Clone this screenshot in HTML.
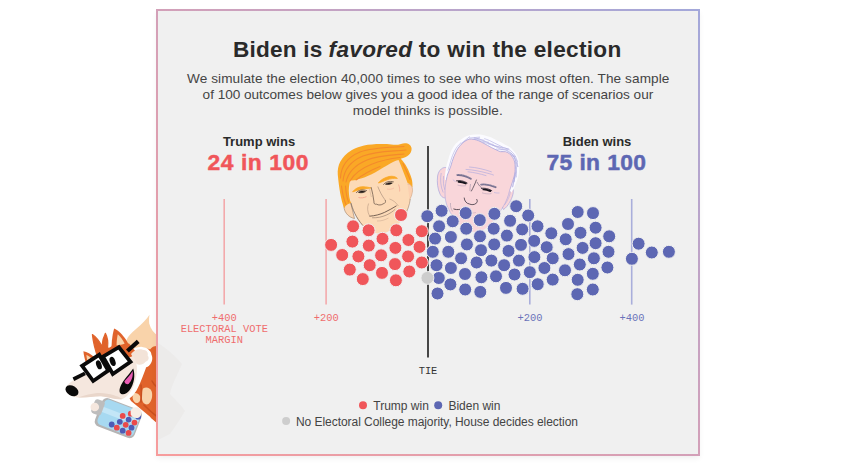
<!DOCTYPE html>
<html><head><meta charset="utf-8"><style>
html,body{margin:0;padding:0;background:#fff;}
body{width:843px;height:475px;position:relative;overflow:hidden;font-family:"Liberation Sans",sans-serif;}
#fox{position:absolute;left:0;top:0;width:843px;height:475px;}
#box{position:absolute;left:156px;top:9px;width:544px;height:447px;box-sizing:border-box;
 background:linear-gradient(to top right,#f79c9c 0%,#d3a0b8 50%,#a3a8da 100%);
 box-shadow:0 3px 6px -1px rgba(0,0,0,0.07);}
#box:before{content:"";position:absolute;left:2px;top:2px;right:2px;bottom:2px;background:#f0f0f0;}
#chart{position:absolute;left:0;top:0;width:843px;height:475px;}
text{font-family:"Liberation Sans",sans-serif;}
.mono text{font-family:"Liberation Mono",monospace;font-size:10.4px;}
</style></head><body>
<svg id="fox" viewBox="0 0 843 475"><g id="fivey">
<!-- tail -->
<path d="M149.5,314.8 C147,319 142,324 136,329 C131,333 128,336.5 126.5,340 L126,358 L158,358 L158,336 C154,333 150.5,329 149.2,323.5 C148.8,320 149.2,317 149.5,314.8 Z" fill="#f9d3aa"/>
<path d="M143,352 C145,349 148,348 150,349.5 C152,346.5 155,345.5 158,346 L158,424 L151,418 L140,396 L140,362 Z" fill="#e0632b"/>
<!-- body -->
<path d="M126,392 C134,384 146,380 158,378 L158,423 C150,417 141,409 131,401 Z" fill="#e0632b"/>
<path d="M143,388.5 C146,386.5 150,387.5 151.5,391 C153,395 152,401 148.5,404 C145.5,405.5 142.5,403 142,399 C141.6,395 142,391 143,388.5 Z" fill="#f9d3aa"/>
<path d="M133,393.5 C135.5,392.5 138.5,393.5 140,396 C141,399 140,402 137.5,403 C135,403.5 133,401 132.6,398 Z" fill="#f9d3aa"/>
<g fill="none" stroke="#c9501f" stroke-width="1.6" stroke-linecap="round">
<path d="M141,385 C141.5,390 141.5,396 141,402"/>
<path d="M144,405 C148,409 152,413 156.5,416"/>
<path d="M152,381 C153.5,384 155.5,386 157,387"/>
</g>
<!-- head white outline (sticker effect) -->
<path d="M131,354 C137,346 148,347 150,355 C152,360 149,365 145,366 C142,374 139,383 135,390 C131,397 124,401 118,400 L100,397 L120,372 Z" fill="#ffffff" stroke="#ffffff" stroke-width="3.2" stroke-linejoin="round"/>
<!-- ear right (behind head) -->
<path d="M114.1,328.6 C118,330 123,335 126.8,341 C128,343 129,345 129.6,347 L111.5,353 C111.2,345 112,336 114.1,328.6 Z" fill="#e0632b"/>
<path d="M117.8,334.2 C120.5,336.5 123,340 124.6,343.6 L116.6,348.5 C116.4,343.5 116.8,338.5 117.8,334.2 Z" fill="#f9d3aa"/>
<!-- hair tufts -->
<path d="M92.4,334.6 C96,337 99.5,341.5 102,346.4 C102.2,342 103.2,337.5 105.4,333.4 C107.6,337.5 108.2,342.5 107.6,347.5 C109.4,349 110.8,351 111.6,353.5 L98,358 C95.2,350 93.2,342 92.4,334.6 Z" fill="#e0632b" stroke="#e0632b" stroke-width="1.2" stroke-linejoin="round"/>
<!-- left ear -->
<path d="M83.4,351.2 C87,351.8 91,354 94,357 L86,363 C84.6,359 83.8,355 83.4,351.2 Z" fill="#e0632b"/>
<path d="M86.4,355 C88,355.6 89.8,356.8 91,358 L87.4,360.6 C86.8,358.6 86.5,356.8 86.4,355 Z" fill="#f9d3aa"/>
<!-- head orange top -->
<path d="M86,362 L112,346 L129,343.5 L136,352 L122,372 L96,380 Z" fill="#e0632b"/>
<!-- cheek fluff -->
<path d="M131,354 C134,350 139,348.4 142.6,349.8 C146.4,349.8 148.8,352.6 147.6,355.6 C149.6,357.6 148.6,361 145.6,361.8 C143.6,364.6 139.6,365.6 136.6,364 Z" fill="#f3e3d8"/>
<!-- face / snout cream -->
<path d="M65.5,388.5 C68,382.5 78,376.5 90,372.5 L133,356 C137.5,361 138,371 135.5,380 C133.5,388 129,396 122.5,399 C117,400.5 109,397 101,396.2 C93,396 85,398 78.5,397.5 C71,397 65.5,393.5 65.5,388.5 Z" fill="#f5e7de"/>
<path d="M78,397.4 C86,398 94,396 101,396.2 C109,397 117,400.5 122.5,399 C118,396 110,393.5 100,393 C92,393 84,395.5 78,397.4 Z" fill="#e9d6ca"/>
<!-- mouth -->
<path d="M133.2,368.6 C135.4,375 134.4,384 129.4,390.6 C126.4,394.4 121.6,395.6 119.8,392.4 C118.8,389 121.2,384 124.2,380 C127.2,376 130.6,372.4 133.2,368.6 Z" fill="#0a0a0a"/>
<path d="M132.6,371 C133.4,375.5 132,380.5 128.6,384 C126.6,384.6 124.6,383.4 124.4,381.2 C127.4,378 130.6,374.8 132.6,371 Z" fill="#ea5bb4"/>
<!-- nose -->
<ellipse cx="72" cy="390.8" rx="7" ry="4.9" transform="rotate(30 72 390.8)" fill="#0a0a0a"/>
<!-- glasses -->
<g fill="#ffffff" stroke="#0a0a0a" stroke-width="3.8" stroke-linejoin="miter">
<path d="M82.1,365.8 L99.2,354.8 L108.2,370.6 L93.2,381 Z"/>
<path d="M103,356.6 L118.9,347.2 L130.5,361.8 L112.8,374 Z"/>
</g>
<path d="M127.4,351 L138.2,341.4" stroke="#0a0a0a" stroke-width="4.2" fill="none"/>
<path d="M85,373.4 L73.4,379.2" stroke="#0a0a0a" stroke-width="3.8" fill="none"/>

<ellipse cx="98.9" cy="364.8" rx="2.6" ry="4.7" transform="rotate(-20 98.9 364.8)" fill="#0a0a0a"/>
<ellipse cx="112.6" cy="361.4" rx="2.7" ry="4.8" transform="rotate(-20 112.6 361.4)" fill="#0a0a0a"/>
<!-- jar -->
<g transform="rotate(21 105.8 398.3)">
<rect x="103.4" y="397.2" width="42.4" height="30.2" rx="5.5" fill="#b5b5b5"/>
<rect x="105.8" y="398.3" width="38.7" height="27" rx="4.5" fill="#a7d9f1"/>
<rect x="105.8" y="407" width="38.7" height="5.5" fill="#c3e6f7"/>
<rect x="96.5" y="402" width="10.5" height="15" rx="3" fill="#bdbdbd"/>
</g>
<circle cx="94.8" cy="407" r="4.3" fill="#f5e7de"/>
<g>
<circle cx="130.8" cy="413.7" r="2.9" fill="#ea4a4a"/>
<circle cx="138.2" cy="416.7" r="2.9" fill="#4f5bb5"/>
<circle cx="122.7" cy="415.9" r="2.9" fill="#ea4a4a"/>
<circle cx="119.8" cy="421.8" r="2.9" fill="#4f5bb5"/>
<circle cx="128.6" cy="419.6" r="2.9" fill="#4f5bb5"/>
<circle cx="134.5" cy="422.6" r="2.9" fill="#ea4a4a"/>
<circle cx="111.7" cy="424.5" r="2.9" fill="#4f5bb5"/>
<circle cx="125.7" cy="424.8" r="2.9" fill="#ea4a4a"/>
<circle cx="116.8" cy="427.7" r="2.9" fill="#ea4a4a"/>
<circle cx="131.5" cy="427.7" r="2.9" fill="#4f5bb5"/>
<circle cx="122.7" cy="430.7" r="2.9" fill="#4f5bb5"/>
<circle cx="128.6" cy="432.9" r="2.9" fill="#ea4a4a"/>
</g>
<!-- right hand -->
<path d="M130.6,411 C131.6,407.4 136.6,406.2 139.8,408.6 C142.4,410.8 142,415.4 139,417.4 C136,419 132,417.6 130.8,414.6 Z" fill="#f7ece4"/>
</g>
</svg>
<div id="box"></div>
<svg id="chart" viewBox="0 0 843 475">
<path d="M158,343 C166,348 176,356 182,364 C178,374 172,384 170,394 C176,400 182,406 185,411 C180,420 174,428 170,434 L158,440 Z" fill="rgba(90,40,20,0.022)"/>
<!-- title -->
<g font-size="22.6" font-weight="bold" fill="#2a2a2a">
<text x="233" y="57.4" textLength="89.4" lengthAdjust="spacing">Biden is</text>
<text x="328.6" y="57.4" textLength="83.4" lengthAdjust="spacing" font-style="italic">favored</text>
<text x="418.8" y="57.4" textLength="202.4" lengthAdjust="spacing">to win the election</text>
</g>
<g font-size="13.6" fill="#444">
<text x="187" y="82.7" textLength="482.4" lengthAdjust="spacing">We simulate the election 40,000 times to see who wins most often. The sample</text>
<text x="202.6" y="98.8" textLength="450.6" lengthAdjust="spacing">of 100 outcomes below gives you a good idea of the range of scenarios our</text>
<text x="352.8" y="114.6" textLength="150" lengthAdjust="spacing">model thinks is possible.</text>
</g>
<!-- headers -->
<text x="259" y="145.8" text-anchor="middle" font-size="13" font-weight="bold" fill="#2a2a2a">Trump wins</text>
<text x="207.5" y="169.9" textLength="101" lengthAdjust="spacing" font-size="22.8" font-weight="bold" fill="#f0565a" stroke="#f0565a" stroke-width="0.5">24 in 100</text>
<text x="597" y="145.8" text-anchor="middle" font-size="13" font-weight="bold" fill="#2a2a2a">Biden wins</text>
<text x="546.5" y="169.9" textLength="99.5" lengthAdjust="spacing" font-size="22.8" font-weight="bold" fill="#5d67b3" stroke="#5d67b3" stroke-width="0.5">75 in 100</text>
<!-- axis ticks -->
<g stroke-width="1.6">
<line x1="224.2" y1="199" x2="224.2" y2="304.6" stroke="#f3a9ab"/>
<line x1="326.1" y1="199" x2="326.1" y2="304.6" stroke="#f3a9ab"/>
<line x1="529.8" y1="199" x2="529.8" y2="304.6" stroke="#a9aedb"/>
<line x1="631.7" y1="199" x2="631.7" y2="304.6" stroke="#a9aedb"/>
</g>
<line x1="428" y1="146" x2="428" y2="357.5" stroke="#333" stroke-width="1.8"/>
<g class="mono" text-anchor="middle">
<text x="224.3" y="320.7" fill="#ef6c6d">+400</text>
<text x="224.3" y="332" fill="#ef6c6d">ELECTORAL VOTE</text>
<text x="224.3" y="342.9" fill="#ef6c6d">MARGIN</text>
<text x="326.3" y="320.7" fill="#ef6c6d">+200</text>
<text x="530" y="320.7" fill="#6a73ba">+200</text>
<text x="631.9" y="320.7" fill="#6a73ba">+400</text>
<text x="428" y="373.8" fill="#333">TIE</text>
</g>
<!-- faces -->
<g id="trump">
<!-- left ear -->
<path d="M350.5,202 C346,201 343.2,204 344.2,208.5 C345,213 349,217.5 354.5,218.5 Z" fill="#fbd6b2" stroke="#8a6a50" stroke-width="0.5"/>
<!-- face -->
<path d="M350.2,180.5 C360,179 372,174 384.4,166.6 C390,163 395,161 398.8,159.8 C402,166 406,176 408.4,182.6 C411.5,184 413,187.5 412.4,191 C412,195 410.5,197.5 410.3,199 C409.5,205 407.5,211 404,217 C400,223.5 393,230 384,233.5 C376,235 368,231 362.9,225.6 C358,220.5 354,213 351.5,204 C349.5,198 348.6,190 350.2,180.5 Z" fill="#fcdab7"/>
<!-- jaw outline -->
<path d="M350.9,202.8 C352.5,209 355.5,217 362.9,225.6" fill="none" stroke="#6b5646" stroke-width="0.7"/>
<path d="M410.3,199 C409.5,205 407.5,211 404,217" fill="none" stroke="#8a6a50" stroke-width="0.5"/>
<!-- right ear hint -->
<path d="M407.5,184 C411.5,183.5 413.2,188 412.3,192.5 C411.8,196 410.5,198 409.6,199.5" fill="#fbd0b0" stroke="#b98a6a" stroke-width="0.4"/>
<!-- hair -->
<path d="M344.2,208.3 C341,200 339,188 337.8,175 C337,165 341,157 351.5,150.2 C360,145.3 370,143.4 386.9,144 C392,144.4 396,145.6 401,143.9 C406,142 411.6,144 411.6,148.8 C411.6,153.6 407.5,157.4 400.8,158.8 C405,163 409,170 411.6,178.5 C412.4,181.5 412.6,184.5 412.4,187.5 C411,185 409.5,183.6 407.6,183 C405,176 402,168 398.6,160 C392,161.5 382,169 371.7,174.2 C362,178.8 355,180.2 350.2,180.6 C349,185 348.5,190 349,194 C349.4,198 350.2,201 351,203 C348,203.5 345.5,205.5 344.2,208.3 Z" fill="#faa826"/>
<g fill="none" stroke="#f48a2c" stroke-width="1.1" stroke-linecap="round">
<path d="M340.5,178 C341,166 348,157 360,152 C372,147.5 388,147.5 404,146.5"/>
<path d="M343,181 C344,170 351,161 363,156 C376,151 390,151.5 406,150"/>
<path d="M346,182 C348,173 355,165 367,160 C378,155.5 392,155 404,154"/>
<path d="M350,181 C354,174 361,168.5 371,164.5 C381,160.5 391,158.5 400,157.5"/>
<path d="M356,180 C362,175 370,170.5 380,166.5"/>
<path d="M341.5,186 C342.5,194 344,200 346,204.5"/>
<path d="M345.5,186 C346,193 347,198 348.5,202"/>
<path d="M403,163.5 C405.5,169 408,174 410,179.5"/>
</g>
<!-- eyebrows -->
<path d="M352.6,191.8 C355,188.5 359,186.6 363,186.7 C366,186.8 369,187.3 370.8,188 C367,188.6 363.5,188.8 360,189.5 C357,190.2 354.5,191.6 352.6,191.8 Z" fill="#faa826" stroke="#faa826" stroke-width="0.8" stroke-linejoin="round"/>
<path d="M378.4,183 C380.5,180 384.5,177.6 389,176.5 C392.5,175.8 395.5,176.5 397.4,178.4 C394,178.2 390.5,178.6 387,179.8 C383.5,181 380.5,182.6 378.4,183 Z" fill="#faa826" stroke="#faa826" stroke-width="0.8" stroke-linejoin="round"/>
<!-- eyes -->
<path d="M356.4,192.6 C358.5,190 362.5,189.2 366.6,190.6" fill="none" stroke="#4a3c34" stroke-width="0.7" stroke-linecap="round"/>
<path d="M358.4,192.4 C360,190.9 363.5,190.6 365.6,191.6 C363.6,192.8 360.4,193.2 358.4,192.4 Z" fill="#231b18" stroke="#231b18" stroke-width="0.5"/>
<path d="M383.6,184.4 C385.6,181.8 389.6,180.8 393.4,181.8" fill="none" stroke="#4a3c34" stroke-width="0.7" stroke-linecap="round"/>
<path d="M385.4,184.2 C387,182.8 390.2,182.3 392.4,183 C390.6,184.4 387.4,185 385.4,184.2 Z" fill="#231b18" stroke="#231b18" stroke-width="0.5"/>
<!-- eye bags / cheeks -->
<path d="M358.5,197.5 C361,198.3 364,197.8 366.5,196.6" fill="none" stroke="#f19a8a" stroke-width="0.8"/>
<path d="M387,189 C389.5,189.6 392,189.2 394,188" fill="none" stroke="#f4b09c" stroke-width="0.6"/>
<path d="M398.5,184.5 C399.5,187 400,189.5 399.6,191.5" fill="none" stroke="#f19a8a" stroke-width="0.6"/>
<!-- nose -->
<path d="M371.2,187.5 C372.4,192 373.4,197 374,202 C373.5,203.4 374.8,204.6 376.6,204.2 C378.5,205.4 381.5,205.2 383.2,203.8 C385,203.6 386,202 385.4,200.4" fill="none" stroke="#5e4c40" stroke-width="0.7" stroke-linecap="round"/>
<path d="M377.8,186.5 C379.5,191 382,196 385.4,200.4" fill="none" stroke="#8d7566" stroke-width="0.5"/>
<path d="M369.6,189 C370.2,192.5 370.8,195 371.4,197" fill="none" stroke="#b79c88" stroke-width="0.4"/>
<!-- smile lines -->
<path d="M368.6,203.5 C367,207.5 367.4,212 369.6,216" fill="none" stroke="#a88a76" stroke-width="0.5"/>
<path d="M389.5,199 C393,200 396,202.5 398.4,206" fill="none" stroke="#a88a76" stroke-width="0.5"/>
<!-- mouth -->
<path d="M369.8,216.2 C375,215.8 380,214.5 384.5,212.4 C389,210.2 393,208 396.2,206" fill="none" stroke="#54433a" stroke-width="0.8" stroke-linecap="round"/>
<path d="M372.5,217.8 C377,218 382,217 386.5,215 C390,213.4 393,211.4 395,209.4" fill="none" stroke="#8d7566" stroke-width="0.6" stroke-linecap="round"/>
<path d="M377,221 C381,221.2 385,220 388.5,218" fill="none" stroke="#c9a68e" stroke-width="0.5"/>
</g>
<g id="biden">
<!-- left ear -->
<path d="M447.5,168 C443,166 438.6,170 437.6,176 C436.8,182 437.6,189 440,194 C441.5,197 444,198.8 446.5,197.5 Z" fill="#f9d5d9" stroke="#aba6dd" stroke-width="0.7"/>
<path d="M441.2,173 C440,179 440.6,187 443.2,192.5 M443.6,176 C443,181 443.4,186 445,190" fill="none" stroke="#aba6dd" stroke-width="0.6"/>
<!-- right ear -->
<path d="M509.5,188 C512.6,186.6 514,190 513,194 C511.8,199.5 508,206.5 503.5,209.5 L501.5,206 Z" fill="#f9d5d9" stroke="#aba6dd" stroke-width="0.7"/>
<path d="M510.5,191 C510,196 507.5,201 504.5,205" fill="none" stroke="#aba6dd" stroke-width="0.5"/>
<path d="M445.0,180.0 C445.0,179.1 445.0,176.3 445.1,174.5 C445.3,172.7 445.5,170.9 445.8,169.1 C446.1,167.3 446.5,165.5 447.0,163.7 C447.4,161.9 448.0,160.2 448.6,158.4 C449.1,156.7 449.5,154.9 450.2,153.2 C450.8,151.5 451.6,149.8 452.5,148.3 C453.4,146.7 454.5,145.2 455.7,143.8 C456.9,142.5 458.4,141.4 459.8,140.3 C461.3,139.1 462.7,138.0 464.3,137.2 C465.9,136.3 467.7,135.7 469.4,135.2 C471.2,134.8 473.0,134.6 474.8,134.5 C476.6,134.4 478.5,134.3 480.3,134.5 C482.1,134.7 483.9,135.4 485.6,135.8 C487.4,136.3 489.2,136.7 490.9,137.3 C492.6,138.0 494.2,138.9 495.8,139.7 C497.5,140.6 499.1,141.3 500.8,142.2 C502.4,143.0 504.0,144.0 505.6,144.9 C507.2,145.7 508.9,146.4 510.4,147.5 C511.8,148.6 513.0,150.1 514.2,151.5 C515.3,152.8 516.5,154.2 517.3,155.9 C518.1,157.5 518.6,159.3 518.9,161.1 C519.3,162.9 519.3,164.7 519.3,166.5 C519.3,168.3 519.2,170.2 519.0,172.0 C518.8,173.8 518.4,175.6 517.9,177.4 C517.5,179.2 516.8,180.9 516.2,182.6 C515.6,184.3 514.9,186.0 514.1,187.7 C513.3,189.3 511.9,191.7 511.5,192.5 L509.6,190.5 C509.9,189.7 510.7,187.4 511.2,185.9 C511.7,184.3 512.3,182.8 512.7,181.2 C513.2,179.7 513.7,178.1 514.1,176.5 C514.5,174.9 514.9,173.3 515.0,171.7 C515.2,170.1 515.1,168.5 515.1,166.9 C515.0,165.2 515.1,163.6 514.7,162.0 C514.3,160.4 513.6,158.8 512.7,157.5 C511.9,156.1 510.9,154.8 509.7,153.9 C508.5,152.9 507.1,152.1 505.5,151.7 C504.0,151.3 502.2,152.0 500.6,151.7 C499.1,151.4 497.6,150.5 496.1,149.8 C494.6,149.1 493.2,148.4 491.7,147.7 C490.3,146.9 488.9,146.1 487.4,145.3 C486.0,144.5 484.6,143.7 483.1,143.0 C481.7,142.2 480.3,141.4 478.7,140.8 C477.2,140.2 475.6,139.7 474.1,139.4 C472.5,139.1 470.9,138.8 469.4,139.1 C467.9,139.4 466.3,140.3 465.0,141.2 C463.6,142.1 462.5,143.2 461.3,144.3 C460.2,145.5 459.1,146.7 458.2,148.1 C457.2,149.4 456.5,150.9 455.8,152.3 C455.1,153.8 454.4,155.3 453.8,156.8 C453.2,158.3 452.7,159.8 452.2,161.4 C451.7,162.9 451.3,164.5 450.8,166.1 C450.3,167.6 449.7,169.1 449.1,170.7 C448.5,172.2 447.8,173.7 447.3,175.2 C446.9,176.8 446.5,179.2 446.3,180.0 Z" fill="#fbfbff"/>
<g fill="none" stroke="#b0ace0" stroke-width="0.6" stroke-linecap="round"><path d="M447.9,170.1 C448.2,169.3 449.0,166.9 449.5,165.3 C450.0,163.6 450.4,162.0 450.9,160.4 C451.4,158.7 451.9,157.1 452.5,155.5 C453.1,153.9 453.8,152.4 454.6,150.9 C455.4,149.4 456.3,147.9 457.3,146.6 C458.3,145.2 460.2,143.5 460.8,142.9"/><path d="M474.3,137.9 C475.1,138.1 477.6,138.4 479.2,138.9 C480.8,139.4 482.3,140.2 483.9,140.8 C485.4,141.5 487.0,142.1 488.5,142.9 C490.0,143.6 491.5,144.5 493.0,145.3 C494.5,146.1 496.0,146.8 497.5,147.5 C499.0,148.2 500.5,149.2 502.1,149.6 C503.7,150.1 505.5,149.9 507.0,150.4 C508.5,151.0 509.9,152.0 511.1,153.1 C512.3,154.2 513.3,155.6 514.1,157.0 C514.9,158.4 515.6,160.1 515.9,161.7 C516.3,163.4 516.3,165.1 516.3,166.8 C516.4,168.4 516.4,170.1 516.2,171.8 C516.0,173.5 515.6,175.1 515.2,176.8 C514.8,178.4 514.0,180.8 513.8,181.6"/><path d="M484.6,138.7 C485.4,139.0 487.9,139.8 489.5,140.5 C491.1,141.2 492.6,142.1 494.2,142.9 C495.8,143.7 497.3,144.4 498.9,145.2 C500.5,146.0 502.0,146.9 503.6,147.6 C505.2,148.3 507.0,148.4 508.4,149.2 C509.9,150.0 511.2,151.2 512.4,152.4 C513.6,153.6 514.7,155.0 515.5,156.5 C516.3,158.0 516.9,159.8 517.2,161.5 C517.6,163.1 517.5,165.8 517.6,166.7"/><path d="M461.1,143.6 L469.4,136.9"/><path d="M465.0,141.1 L479.4,138.1"/><path d="M469.4,138.0 L479.7,137.1"/><path d="M474.1,139.0 L484.1,140.2"/><path d="M478.8,140.7 L488.8,142.3"/><path d="M483.3,142.5 L493.4,144.4"/><path d="M488.1,143.9 L503.0,148.4"/><path d="M492.9,145.3 L508.7,149.0"/><path d="M496.5,149.1 L507.9,149.7"/><path d="M501.0,151.1 L514.8,156.8"/><path d="M506.7,150.7 L515.4,156.5"/><path d="M510.9,153.2 L517.5,161.4"/><path d="M514.1,157.0 L518.0,166.6"/><path d="M515.7,161.8 L516.4,177.0"/><path d="M515.2,166.8 L514.2,181.8"/><path d="M515.9,171.8 L512.7,186.8"/><path d="M514.6,176.6 L512.6,186.8"/></g>
<!-- face -->
<path d="M446.3,180.0 C446.5,179.2 446.9,176.8 447.3,175.2 C447.8,173.7 448.5,172.2 449.1,170.7 C449.7,169.1 450.3,167.6 450.8,166.1 C451.3,164.5 451.7,162.9 452.2,161.4 C452.7,159.8 453.2,158.3 453.8,156.8 C454.4,155.3 455.1,153.8 455.8,152.3 C456.5,150.9 457.2,149.4 458.2,148.1 C459.1,146.7 460.2,145.5 461.3,144.3 C462.5,143.2 463.6,142.1 465.0,141.2 C466.3,140.3 467.9,139.4 469.4,139.1 C470.9,138.8 472.5,139.1 474.1,139.4 C475.6,139.7 477.2,140.2 478.7,140.8 C480.3,141.4 481.7,142.2 483.1,143.0 C484.6,143.7 486.0,144.5 487.4,145.3 C488.9,146.1 490.3,146.9 491.7,147.7 C493.2,148.4 494.6,149.1 496.1,149.8 C497.6,150.5 499.1,151.4 500.6,151.7 C502.2,152.0 504.0,151.3 505.5,151.7 C507.1,152.1 508.5,152.9 509.7,153.9 C510.9,154.8 511.9,156.1 512.7,157.5 C513.6,158.8 514.3,160.4 514.7,162.0 C515.1,163.6 515.0,165.2 515.1,166.9 C515.1,168.5 515.2,170.1 515.0,171.7 C514.9,173.3 514.5,174.9 514.1,176.5 C513.7,178.1 513.2,179.7 512.7,181.2 C512.3,182.8 511.7,184.3 511.2,185.9 C510.7,187.4 509.9,189.7 509.6,190.5 C509,193 507,198 505,202.5 C503,207 500.5,210 499,212 C496,218 491,225 484,229.5 C478,233.5 469,232.5 463,227.5 C456,222 450.5,214 447,205.5 C444.5,199 444.4,190 446.3,180 Z" fill="#f9d6da"/>
<path d="M446.3,180.0 C446.5,179.2 446.9,176.8 447.3,175.2 C447.8,173.7 448.5,172.2 449.1,170.7 C449.7,169.1 450.3,167.6 450.8,166.1 C451.3,164.5 451.7,162.9 452.2,161.4 C452.7,159.8 453.2,158.3 453.8,156.8 C454.4,155.3 455.1,153.8 455.8,152.3 C456.5,150.9 457.2,149.4 458.2,148.1 C459.1,146.7 460.2,145.5 461.3,144.3 C462.5,143.2 463.6,142.1 465.0,141.2 C466.3,140.3 467.9,139.4 469.4,139.1 C470.9,138.8 472.5,139.1 474.1,139.4 C475.6,139.7 477.2,140.2 478.7,140.8 C480.3,141.4 481.7,142.2 483.1,143.0 C484.6,143.7 486.0,144.5 487.4,145.3 C488.9,146.1 490.3,146.9 491.7,147.7 C493.2,148.4 494.6,149.1 496.1,149.8 C497.6,150.5 499.1,151.4 500.6,151.7 C502.2,152.0 504.0,151.3 505.5,151.7 C507.1,152.1 508.5,152.9 509.7,153.9 C510.9,154.8 511.9,156.1 512.7,157.5 C513.6,158.8 514.3,160.4 514.7,162.0 C515.1,163.6 515.0,165.2 515.1,166.9 C515.1,168.5 515.2,170.1 515.0,171.7 C514.9,173.3 514.5,174.9 514.1,176.5 C513.7,178.1 513.2,179.7 512.7,181.2 C512.3,182.8 511.7,184.3 511.2,185.9 C510.7,187.4 509.9,189.7 509.6,190.5" fill="none" stroke="#a9a5dd" stroke-width="0.8"/>
<!-- jaw outline -->
<path d="M446.3,180 C444.4,190 444.5,199 447,205.5 C449,210.5 451.5,215 454.5,219" fill="none" stroke="#aba6dd" stroke-width="0.6"/>
<path d="M509.6,190.5 C508.5,196 506,202 503,207 C501.5,209.5 500,211.5 498.6,213" fill="none" stroke="#aba6dd" stroke-width="0.6"/>
<!-- forehead wrinkles -->
<g fill="none" stroke="#b3acde" stroke-width="0.7" stroke-linecap="round">
<path d="M466,169.4 C473,169.8 481,171.4 489,173.6 C491,174.2 492.5,174.6 493.5,175"/>
<path d="M469.5,167 C476,167.4 484,169.2 491.4,171.8"/>
<path d="M468,171.8 C474,172.4 480,173.8 486,175.6"/>
</g>
<!-- eyebrows -->
<path d="M457.4,175 C461,174.8 466.5,176.2 470.8,178.8" fill="none" stroke="#77708f" stroke-width="1.9" stroke-linecap="round"/>
<path d="M457.4,174.4 C461,174 466.5,175.6 470.8,178" fill="none" stroke="#cfc4d8" stroke-width="0.5" stroke-dasharray="0.8 0.8"/>
<path d="M481.2,184.6 C485,184 490.5,185 495.6,187.2" fill="none" stroke="#77708f" stroke-width="1.9" stroke-linecap="round"/>
<path d="M481.2,184 C485,183.4 490.5,184.4 495.6,186.6" fill="none" stroke="#cfc4d8" stroke-width="0.5" stroke-dasharray="0.8 0.8"/>
<!-- eyes -->
<path d="M456.4,180.8 C459.5,180 463.5,180.6 467.2,183" fill="none" stroke="#2a2330" stroke-width="0.8" stroke-linecap="round"/>
<path d="M458.6,181.8 C461,181.8 463.6,182.4 465.8,183.4" fill="none" stroke="#17141c" stroke-width="1.9" stroke-linecap="round"/>
<path d="M457.5,185 C460.5,186 463.5,186.2 466,185.6" fill="none" stroke="#b8a3b8" stroke-width="0.6"/>
<path d="M481.4,188.4 C484.5,187.8 488,188.4 491.8,190.6" fill="none" stroke="#2a2330" stroke-width="0.8" stroke-linecap="round"/>
<path d="M483.4,189.4 C485.6,189.4 488,190 490.4,191" fill="none" stroke="#17141c" stroke-width="1.9" stroke-linecap="round"/>
<path d="M482,192.8 C485,193.8 488.5,194.2 491.5,193.6" fill="none" stroke="#b8a3b8" stroke-width="0.6"/>
<path d="M494,192.5 C496,193 498,193.2 499.5,193" fill="none" stroke="#b3aedd" stroke-width="0.6"/>
<path d="M452.8,179.5 C453.6,180.5 454.6,181.2 455.6,181.6" fill="none" stroke="#b3aedd" stroke-width="0.6"/>
<!-- nose -->
<path d="M476.4,180 C475,184 473,188 471.4,191" fill="none" stroke="#3a3340" stroke-width="0.7" stroke-linecap="round"/>
<path d="M477,182 C478.5,185 480.5,187.4 483,188.6" fill="none" stroke="#5b5468" stroke-width="0.6"/>
<path d="M470.5,184 C470,186.5 469.8,189 470,191" fill="none" stroke="#8a809a" stroke-width="0.5"/>
<path d="M464.2,198 C464.4,201 466.5,203.6 469.4,204 C471.5,205 474.5,204.8 476,203.4 C477.5,202.6 477.6,200.6 476.8,199.4" fill="none" stroke="#3a3340" stroke-width="0.8" stroke-linecap="round"/>
<!-- mouth -->
<path d="M453.8,209 C455.5,209.6 457.6,209.8 459.6,209.4" fill="none" stroke="#4a404a" stroke-width="0.9" stroke-linecap="round"/>
<path d="M450.5,203 C450.2,206 451,209 452.6,211.4" fill="none" stroke="#a89aae" stroke-width="0.6"/>
<path d="M462,212 C467,213.5 472,213.5 476,212.5" fill="none" stroke="#c0a8b4" stroke-width="0.5"/>
</g>

<!-- dots -->
<g stroke="#f0f0f0" stroke-width="1">
<circle cx="401.0" cy="215.0" r="6.5" fill="#f0565a"/><circle cx="353.1" cy="226.3" r="6.5" fill="#f0565a"/><circle cx="368.6" cy="230.3" r="6.5" fill="#f0565a"/><circle cx="396.3" cy="230.3" r="6.5" fill="#f0565a"/><circle cx="421.8" cy="231.2" r="6.5" fill="#f0565a"/><circle cx="382.5" cy="238.8" r="6.5" fill="#f0565a"/><circle cx="408.4" cy="240.0" r="6.5" fill="#f0565a"/><circle cx="352.4" cy="241.6" r="6.5" fill="#f0565a"/><circle cx="331.1" cy="244.9" r="6.5" fill="#f0565a"/><circle cx="368.8" cy="245.6" r="6.5" fill="#f0565a"/><circle cx="395.4" cy="247.9" r="6.5" fill="#f0565a"/><circle cx="419.5" cy="246.9" r="6.5" fill="#f0565a"/><circle cx="342.2" cy="255.0" r="6.5" fill="#f0565a"/><circle cx="358.4" cy="256.4" r="6.5" fill="#f0565a"/><circle cx="381.1" cy="255.3" r="6.5" fill="#f0565a"/><circle cx="408.1" cy="256.4" r="6.5" fill="#f0565a"/><circle cx="421.8" cy="262.5" r="6.5" fill="#f0565a"/><circle cx="369.7" cy="265.2" r="6.5" fill="#f0565a"/><circle cx="395.0" cy="264.1" r="6.5" fill="#f0565a"/><circle cx="349.8" cy="269.6" r="6.5" fill="#f0565a"/><circle cx="382.0" cy="272.9" r="6.5" fill="#f0565a"/><circle cx="409.3" cy="271.5" r="6.5" fill="#f0565a"/><circle cx="362.8" cy="279.1" r="6.5" fill="#f0565a"/><circle cx="395.9" cy="280.3" r="6.5" fill="#f0565a"/>
<circle cx="427.3" cy="216.2" r="6.5" fill="#5d67b3"/><circle cx="441.6" cy="210.8" r="6.5" fill="#5d67b3"/><circle cx="465.7" cy="213.1" r="6.5" fill="#5d67b3"/><circle cx="494.4" cy="213.8" r="6.5" fill="#5d67b3"/><circle cx="516.2" cy="206.2" r="6.5" fill="#5d67b3"/><circle cx="528.2" cy="215.5" r="6.5" fill="#5d67b3"/><circle cx="452.7" cy="221.3" r="6.5" fill="#5d67b3"/><circle cx="479.8" cy="220.1" r="6.5" fill="#5d67b3"/><circle cx="510.1" cy="220.8" r="6.5" fill="#5d67b3"/><circle cx="439.1" cy="226.3" r="6.5" fill="#5d67b3"/><circle cx="466.2" cy="228.7" r="6.5" fill="#5d67b3"/><circle cx="493.7" cy="228.7" r="6.5" fill="#5d67b3"/><circle cx="522.2" cy="229.4" r="6.5" fill="#5d67b3"/><circle cx="537.5" cy="226.3" r="6.5" fill="#5d67b3"/><circle cx="450.9" cy="237.0" r="6.5" fill="#5d67b3"/><circle cx="480.0" cy="236.3" r="6.5" fill="#5d67b3"/><circle cx="506.9" cy="235.6" r="6.5" fill="#5d67b3"/><circle cx="551.3" cy="233.3" r="6.5" fill="#5d67b3"/><circle cx="435.1" cy="238.6" r="6.5" fill="#5d67b3"/><circle cx="466.9" cy="244.4" r="6.5" fill="#5d67b3"/><circle cx="494.2" cy="244.4" r="6.5" fill="#5d67b3"/><circle cx="521.0" cy="244.9" r="6.5" fill="#5d67b3"/><circle cx="534.2" cy="240.9" r="6.5" fill="#5d67b3"/><circle cx="546.7" cy="247.2" r="6.5" fill="#5d67b3"/><circle cx="432.8" cy="251.8" r="6.5" fill="#5d67b3"/><circle cx="448.3" cy="251.8" r="6.5" fill="#5d67b3"/><circle cx="481.0" cy="250.2" r="6.5" fill="#5d67b3"/><circle cx="508.5" cy="250.9" r="6.5" fill="#5d67b3"/><circle cx="461.1" cy="258.3" r="6.5" fill="#5d67b3"/><circle cx="534.4" cy="257.1" r="6.5" fill="#5d67b3"/><circle cx="552.7" cy="258.3" r="6.5" fill="#5d67b3"/><circle cx="476.6" cy="262.5" r="6.5" fill="#5d67b3"/><circle cx="491.4" cy="260.6" r="6.5" fill="#5d67b3"/><circle cx="518.9" cy="260.6" r="6.5" fill="#5d67b3"/><circle cx="436.5" cy="265.2" r="6.5" fill="#5d67b3"/><circle cx="450.9" cy="268.0" r="6.5" fill="#5d67b3"/><circle cx="504.1" cy="265.2" r="6.5" fill="#5d67b3"/><circle cx="544.4" cy="268.0" r="6.5" fill="#5d67b3"/><circle cx="465.0" cy="274.0" r="6.5" fill="#5d67b3"/><circle cx="514.5" cy="274.5" r="6.5" fill="#5d67b3"/><circle cx="529.8" cy="272.2" r="6.5" fill="#5d67b3"/><circle cx="438.8" cy="278.0" r="6.5" fill="#5d67b3"/><circle cx="481.4" cy="277.3" r="6.5" fill="#5d67b3"/><circle cx="496.0" cy="276.3" r="6.5" fill="#5d67b3"/><circle cx="552.7" cy="279.6" r="6.5" fill="#5d67b3"/><circle cx="450.4" cy="284.4" r="6.5" fill="#5d67b3"/><circle cx="537.7" cy="284.2" r="6.5" fill="#5d67b3"/><circle cx="506.0" cy="287.9" r="6.5" fill="#5d67b3"/><circle cx="522.6" cy="288.8" r="6.5" fill="#5d67b3"/><circle cx="465.2" cy="289.5" r="6.5" fill="#5d67b3"/><circle cx="480.3" cy="291.9" r="6.5" fill="#5d67b3"/><circle cx="437.5" cy="293.5" r="6.5" fill="#5d67b3"/><circle cx="577.7" cy="212.0" r="6.5" fill="#5d67b3"/><circle cx="593.0" cy="213.1" r="6.5" fill="#5d67b3"/><circle cx="568.0" cy="224.0" r="6.5" fill="#5d67b3"/><circle cx="595.6" cy="227.7" r="6.5" fill="#5d67b3"/><circle cx="580.5" cy="232.8" r="6.5" fill="#5d67b3"/><circle cx="609.2" cy="236.3" r="6.5" fill="#5d67b3"/><circle cx="565.7" cy="239.3" r="6.5" fill="#5d67b3"/><circle cx="595.6" cy="243.2" r="6.5" fill="#5d67b3"/><circle cx="582.6" cy="247.9" r="6.5" fill="#5d67b3"/><circle cx="608.5" cy="251.8" r="6.5" fill="#5d67b3"/><circle cx="568.5" cy="254.1" r="6.5" fill="#5d67b3"/><circle cx="593.9" cy="258.3" r="6.5" fill="#5d67b3"/><circle cx="579.8" cy="264.5" r="6.5" fill="#5d67b3"/><circle cx="607.4" cy="267.5" r="6.5" fill="#5d67b3"/><circle cx="565.0" cy="270.3" r="6.5" fill="#5d67b3"/><circle cx="592.8" cy="273.8" r="6.5" fill="#5d67b3"/><circle cx="577.7" cy="279.8" r="6.5" fill="#5d67b3"/><circle cx="592.8" cy="289.5" r="6.5" fill="#5d67b3"/><circle cx="577.3" cy="294.2" r="6.5" fill="#5d67b3"/><circle cx="638.6" cy="243.7" r="6.5" fill="#5d67b3"/><circle cx="651.8" cy="252.5" r="6.5" fill="#5d67b3"/><circle cx="668.9" cy="251.8" r="6.5" fill="#5d67b3"/><circle cx="631.9" cy="258.8" r="6.5" fill="#5d67b3"/>
<circle cx="427.4" cy="277.9" r="6.5" fill="#cdcdcd"/>
</g>
<!-- legend -->
<circle cx="363" cy="405.2" r="4" fill="#f0565a"/>
<circle cx="438.2" cy="405.2" r="4" fill="#5d67b3"/>
<circle cx="286.1" cy="420.9" r="4" fill="#cdcdcd"/>
<g font-size="12" fill="#444">
<text x="373.3" y="409.5">Trump win</text>
<text x="448.4" y="409.5">Biden win</text>
<text x="296" y="425.7" textLength="282" lengthAdjust="spacing">No Electoral College majority, House decides election</text>
</g>
</svg>
</body></html>
